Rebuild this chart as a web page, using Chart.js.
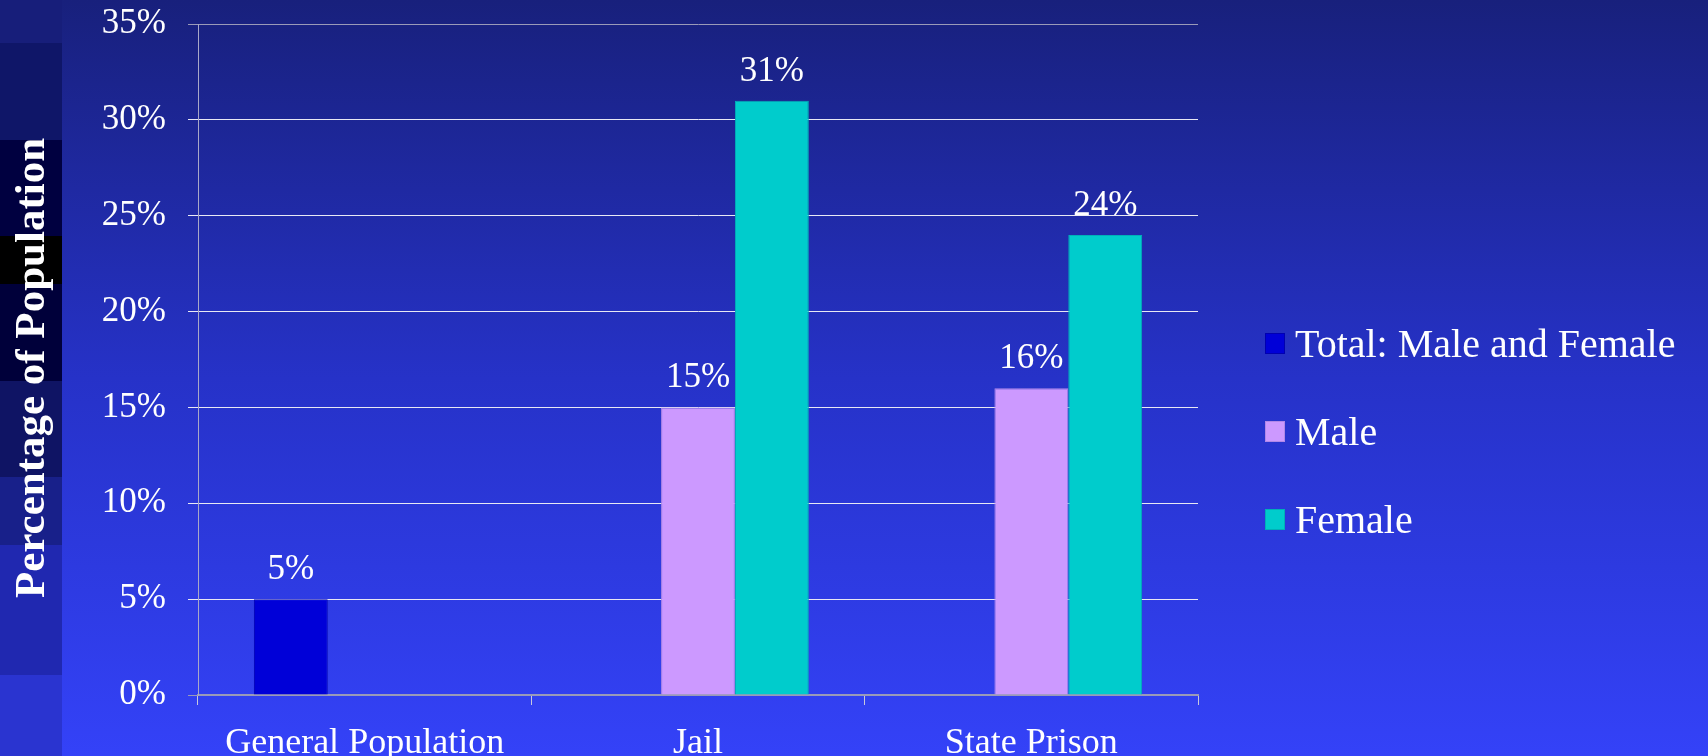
<!DOCTYPE html>
<html><head><meta charset="utf-8">
<script src="https://cdn.jsdelivr.net/npm/chart.js@4/dist/chart.umd.min.js"></script>
<style>
html,body{margin:0;padding:0;background:#2530c0;overflow:hidden}
#wrap{width:1708px;height:756px;position:relative}
canvas{display:block}
</style>
</head><body>
<div id="wrap"><canvas id="c" width="1708" height="756"></canvas></div>
<script>
const categories = ['General Population', 'Jail', 'State Prison'];
const seriesNames = ['Total: Male and Female', 'Male', 'Female'];
const totalValues = [5, null, null];
const maleValues = [null, 15, 16];
const femaleValues = [null, 31, 24];
const yTickValues = [0, 5, 10, 15, 20, 25, 30, 35];
const yTitle = 'Percentage of Population';

const SERIF = "'Liberation Serif', 'Times New Roman', serif";
const fills = ['#0000d8', '#cc99ff', '#00cccc'];
const edges = ['#0000b0', '#b088e8', '#00b0b8'];

const stripBands = [
  [0, 43, '#171e7a'], [43, 140, '#0f1668'], [140, 236, '#000040'], [236, 284, '#000000'],
  [284, 381, '#00003a'], [381, 477, '#0f1464'], [477, 545, '#18208a'], [545, 675, '#2028b0'], [675, 756, '#2a34d0']
];

const bgPlugin = {
  id: 'bg',
  beforeDraw(chart) {
    const ctx = chart.ctx, w = chart.width, h = chart.height;
    ctx.save();
    const g = ctx.createLinearGradient(0, 0, 0, h);
    g.addColorStop(0, '#18207c');
    g.addColorStop(0.5, '#2632c8');
    g.addColorStop(1, '#3442f8');
    ctx.fillStyle = g;
    ctx.fillRect(0, 0, w, h);
    stripBands.forEach(([y0, y1, c]) => {
      ctx.fillStyle = c;
      ctx.fillRect(0, y0, 62, y1 - y0);
    });
    // vertical axis title on the dark strip
    ctx.translate(33, 368);
    ctx.rotate(-Math.PI / 2);
    ctx.font = 'bold 43px ' + SERIF;
    ctx.fillStyle = '#ffffff';
    ctx.textAlign = 'center';
    ctx.textBaseline = 'middle';
    ctx.fillText(yTitle, 0, 0);
    ctx.restore();
  }
};

const labelPlugin = {
  id: 'valueLabels',
  afterDatasetsDraw(chart) {
    const ctx = chart.ctx;
    ctx.save();
    ctx.font = '35px ' + SERIF;
    ctx.fillStyle = '#ffffff';
    ctx.textAlign = 'center';
    ctx.textBaseline = 'alphabetic';
    chart.data.datasets.forEach((ds, i) => {
      const meta = chart.getDatasetMeta(i);
      meta.data.forEach((el, j) => {
        const v = ds.data[j];
        if (v === null || v === undefined) return;
        ctx.fillText(v + '%', el.x, el.y - 20);
      });
    });
    ctx.restore();
  }
};

const legendPlugin = {
  id: 'sideLegend',
  afterDraw(chart) {
    const ctx = chart.ctx;
    ctx.save();
    ctx.font = '40px ' + SERIF;
    ctx.textAlign = 'left';
    ctx.textBaseline = 'alphabetic';
    chart.data.datasets.forEach((ds, i) => {
      const base = 357 + i * 88;
      ctx.fillStyle = ds.backgroundColor;
      ctx.fillRect(1265, base - 24, 20, 21);
      ctx.strokeStyle = ds.borderColor;
      ctx.lineWidth = 1;
      ctx.strokeRect(1265.5, base - 23.5, 19, 20);
      ctx.fillStyle = '#ffffff';
      ctx.fillText(ds.label, 1295, base);
    });
    ctx.restore();
  }
};

const datasets = [totalValues, maleValues, femaleValues].map((vals, i) => ({
  label: seriesNames[i],
  data: vals,
  backgroundColor: fills[i],
  borderColor: edges[i],
  borderWidth: 1,
  barPercentage: 1,
  categoryPercentage: 0.665
}));

new Chart(document.getElementById('c'), {
  type: 'bar',
  data: { labels: categories, datasets },
  plugins: [bgPlugin, labelPlugin, legendPlugin],
  options: {
    responsive: false,
    animation: false,
    layout: { padding: { top: 24, right: 510, left: 0, bottom: 0 } },
    plugins: { legend: { display: false }, tooltip: { enabled: false } },
    scales: {
      x: {
        grid: { display: true, drawOnChartArea: false, drawTicks: true, tickLength: 10, color: '#c8c8dc', lineWidth: 1, offset: true },
        border: { display: true, color: '#9a9ab8', width: 2 },
        ticks: { color: '#ffffff', font: { family: SERIF, size: 36 }, padding: 17, maxRotation: 0, autoSkip: false },
        afterFit(scale) { scale.height = 61; scale.paddingLeft = 0; scale.paddingRight = 0; }
      },
      y: {
        min: 0, max: 35,
        afterBuildTicks(scale) { scale.ticks = yTickValues.map(v => ({ value: v })); },
        grid: {
          drawTicks: true, tickLength: 10, lineWidth: 1,
          color: (c) => (c.tick && (c.tick.value === 0 || c.tick.value === 35)) ? '#9a9ab8' : '#e8e8f4'
        },
        border: { display: true, color: '#a8a8c8', width: 1 },
        ticks: { color: '#ffffff', font: { family: SERIF, size: 35 }, padding: 22, callback: (v) => v + '%' },
        title: { display: false, text: yTitle },
        afterFit(scale) { scale.width = 198; scale.paddingTop = 0; scale.paddingBottom = 0; }
      }
    }
  }
});
</script>
</body></html>
